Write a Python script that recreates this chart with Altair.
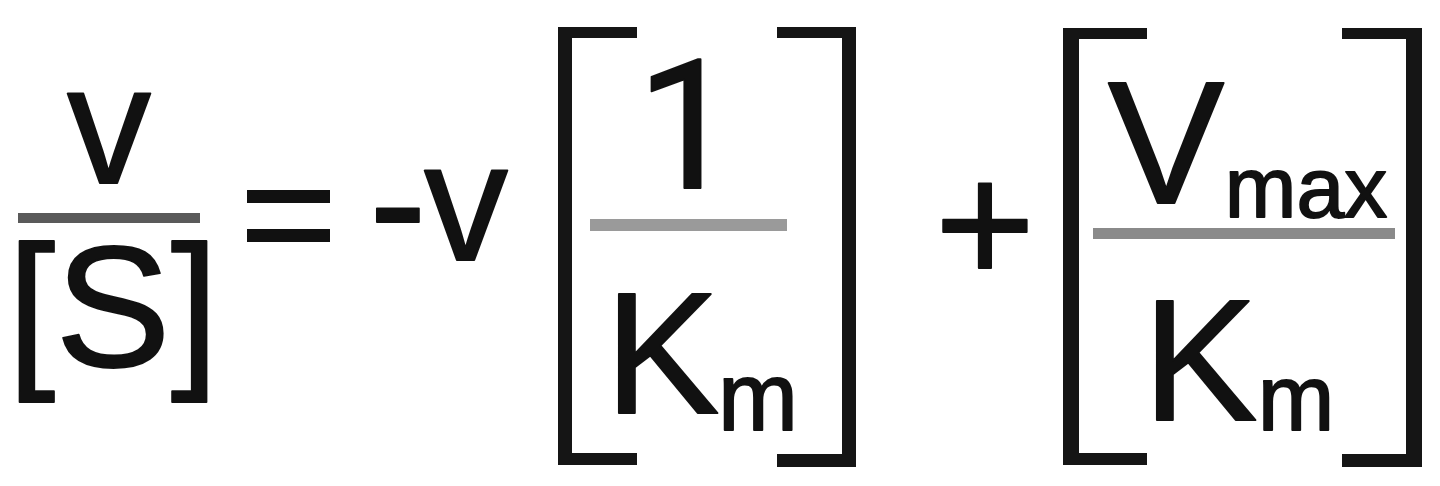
import altair as alt
import pandas as pd

# Equation glyphs: v/[S] = -v [1/Km] + [Vmax/Km]
glyphs = ["v", "[S]", "-", "v", "K", "m", "+", "V", "max", "K", "m"]
glyph_x = [109, 113, 398, 466, 662, 758, 985, 1166, 1306, 1200, 1296]
glyph_y = [183, 366, 261, 260, 413, 430, 283, 203, 217, 420, 430]
glyph_size = [168, 173, 172, 168, 172, 96, 172, 175, 86, 172, 92]

# The numeral "1" (drawn without a foot serif)
one_text = ["1"]
one_x = [687]
one_y = [188]
one_size = [180]

# Fraction bars and the equals sign (x, x2, y, y2, colour)
bar_x = [18, 590, 1093, 247, 247]
bar_x2 = [200, 787, 1395, 330, 330]
bar_y = [213, 219, 228, 190, 229]
bar_y2 = [223, 231, 239, 203, 242]
bar_fill = ["#5a5a5a", "#9a9a9a", "#8a8a8a", "#111111", "#111111"]

# Big square brackets drawn as three strokes each
brk_x = [558, 558, 558, 842, 777, 777, 1063, 1063, 1063, 1406, 1342, 1342]
brk_x2 = [572, 637, 637, 856, 856, 856, 1079, 1147, 1147, 1422, 1422, 1422]
brk_y = [27, 27, 453, 27, 27, 454, 28, 28, 453, 28, 28, 454]
brk_y2 = [465, 38, 465, 467, 38, 467, 465, 39, 465, 467, 39, 467]

glyph_df = pd.DataFrame({"t": glyphs, "x": glyph_x, "y": glyph_y, "s": glyph_size})
one_df = pd.DataFrame({"t": one_text, "x": one_x, "y": one_y, "s": one_size})
bar_df = pd.DataFrame({"x": bar_x, "x2": bar_x2, "y": bar_y, "y2": bar_y2, "c": bar_fill})
brk_df = pd.DataFrame({"x": brk_x, "x2": brk_x2, "y": brk_y, "y2": brk_y2,
                       "c": ["#151515"] * len(brk_x)})

xs = alt.Scale(domain=[8, 1432], nice=False, zero=False)
ys = alt.Scale(domain=[8, 478], nice=False, zero=False, reverse=True)

rects = alt.Chart(pd.concat([bar_df, brk_df])).mark_rect().encode(
    x=alt.X("x:Q", scale=xs, axis=None),
    x2="x2:Q",
    y=alt.Y("y:Q", scale=ys, axis=None),
    y2="y2:Q",
    color=alt.Color("c:N", scale=None),
)


def glyph_layer(df, font):
    return alt.Chart(df).mark_text(
        font=font, align="center", baseline="alphabetic", color="#111111",
        stroke="#111111", strokeWidth=1.8, strokeJoin="round",
    ).encode(
        x=alt.X("x:Q", scale=xs, axis=None),
        y=alt.Y("y:Q", scale=ys, axis=None),
        text="t:N",
        size=alt.Size("s:Q", scale=None),
    )


text = glyph_layer(glyph_df, "Liberation Sans")
one = glyph_layer(one_df, "Roboto")

chart = alt.layer(rects, text, one).properties(
    width=1424, height=470, padding=0, autosize=alt.AutoSizeParams(type="none"),
    background="white",
).configure_view(stroke=None)

chart.save("out.html", embed_options={"renderer": "svg", "actions": False})
